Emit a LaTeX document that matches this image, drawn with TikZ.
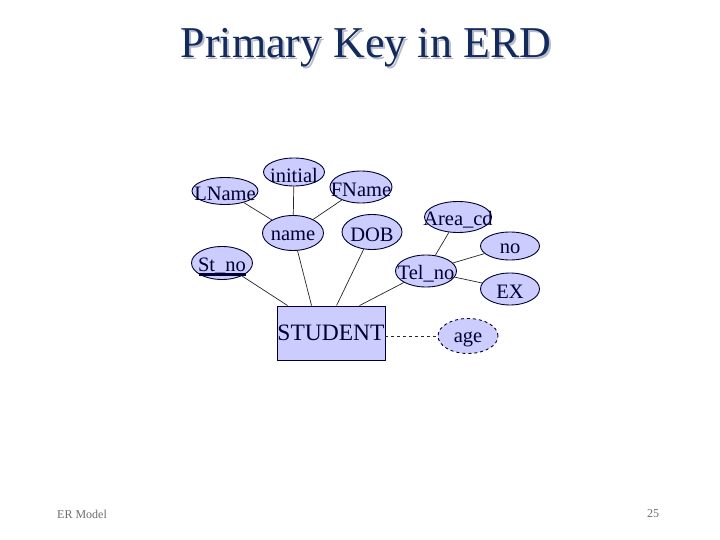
\documentclass[tikz,border=0pt]{standalone}
\usepackage{fontspec}
\setmainfont{Liberation Serif}
\usetikzlibrary{shapes.geometric}
\definecolor{attrfill}{RGB}{204,204,255}
\definecolor{navy}{RGB}{0,0,51}
\definecolor{titleblue}{RGB}{18,42,92}
\definecolor{shadowgrey}{RGB}{185,188,200}
\definecolor{footgrey}{RGB}{110,110,110}
\tikzset{
  attr/.style={ellipse, draw=navy, line width=0.9pt, fill=attrfill,
    inner sep=0pt},
  attrtext/.style={text=navy, inner sep=0pt, yshift=-3pt, font=\fontsize{20.5}{20.5}\selectfont},
  ent/.style={rectangle, draw=navy, line width=0.9pt, fill=attrfill, text=navy,
    inner sep=0pt, minimum width=108pt, minimum height=54pt, font=\fontsize{23.5}{23.5}\selectfont},
  link/.style={draw=black!85, line width=0.7pt},
  titletext/.style={font=\fontsize{44}{44}\selectfont, inner sep=0pt},
  foot/.style={font=\fontsize{12}{12}\selectfont, text=footgrey, inner sep=0pt}
}
\begin{document}
\begin{tikzpicture}[x=1pt,y=-1pt]
\useasboundingbox[fill=white] (0,0) rectangle (720,540);
% title
\node[titletext, text=shadowgrey] (titleshadow) at (368,50) {Primary Key in ERD};
\node[titletext, text=titleblue] (title) at (366,48) {Primary Key in ERD};
% attributes
\node[attr, minimum width=66pt, minimum height=27pt, label={[attrtext]center:LName}] (lname) at (225,191) {};
\node[attr, minimum width=61pt, minimum height=28pt, label={[attrtext]center:initial}] (initial) at (294,172) {};
\node[attr, minimum width=62pt, minimum height=32pt, label={[attrtext]center:FName}] (fname) at (361,187) {};
\node[attr, minimum width=61pt, minimum height=35pt, label={[attrtext]center:name}] (name) at (293,233) {};
\node[attr, minimum width=60pt, minimum height=35pt, label={[attrtext]center:DOB}] (dob) at (372,232) {};
\node[attr, minimum width=61pt, minimum height=33pt, label={[attrtext]center:St\_no}] (stno) at (222,263) {};
\node[attr, minimum width=67pt, minimum height=31pt, label={[attrtext]center:Area\_cd}] (area) at (458,217) {};
\node[attr, minimum width=59pt, minimum height=28pt, label={[attrtext]center:no}] (no) at (510,246) {};
\node[attr, minimum width=61pt, minimum height=32pt, label={[attrtext]center:Tel\_no}] (telno) at (426,271) {};
\node[attr, minimum width=59pt, minimum height=32pt, label={[attrtext]center:EX}] (ex) at (510,289) {};
\node[attr, dashed, minimum width=60pt, minimum height=35pt, label={[attrtext]center:age}] (age) at (468,336) {};
% entity
\node[ent] (stu) at (331,333) {STUDENT};
% primary key underline
\draw[navy, line width=3pt] ([xshift=-23.5pt,yshift=-11pt]stno.center) -- ([xshift=23.5pt,yshift=-11pt]stno.center);
% connectors
\draw[link] (lname) -- (name);
\draw[link] (initial) -- (name);
\draw[link] (fname) -- (name);
\draw[link] (stno) -- ([xshift=11pt]stu.north west);
\draw[link] (name) -- ([xshift=35pt]stu.north west);
\draw[link] (dob) -- ([xshift=60pt]stu.north west);
\draw[link] (telno) -- ([xshift=83pt]stu.north west);
\draw[link] (area) -- (telno);
\draw[link] (no) -- (telno);
\draw[link] (ex) -- (telno);
\draw[link, dashed] (age.west -| stu.east) -- (age.west);
% footer
\node[foot] (footl) at (82,514) {ER Model};
\node[foot] (footr) at (653,514) {25};
\end{tikzpicture}
\end{document}
